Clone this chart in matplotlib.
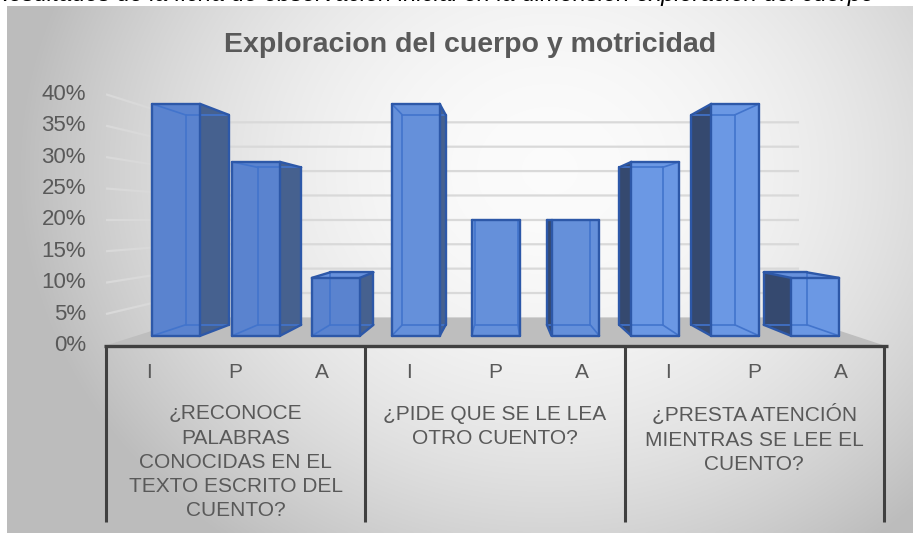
import numpy as np
import matplotlib
matplotlib.use("Agg")
import matplotlib.pyplot as plt
from matplotlib.patches import Polygon

plt.rcParams['font.family'] = ['Liberation Sans', 'DejaVu Sans']

# ---------------- data ----------------
title = "Exploracion del cuerpo y motricidad"
header = "Resultados de la ficha de observación inicial en la dimensión exploración del cuerpo"
groups = ["¿RECONOCE\nPALABRAS\nCONOCIDAS EN EL\nTEXTO ESCRITO DEL\nCUENTO?",
          "¿PIDE QUE SE LE LEA\nOTRO CUENTO?",
          "¿PRESTA ATENCIÓN\nMIENTRAS SE LEE EL\nCUENTO?"]
levels = ["I", "P", "A"]
values = [[40, 30, 10],
          [40, 20, 20],
          [30, 40, 10]]
yticks = [0, 5, 10, 15, 20, 25, 30, 35, 40]
ytick_labels = [f"{t}%" for t in yticks]

# ---------------- geometry ----------------
W, H = 913, 533
fig = plt.figure(figsize=(W / 100, H / 100), dpi=100)
fig.patch.set_facecolor("white")

# background gradient (chart area)
bg = fig.add_axes([0, 0, 1, 1], zorder=0)
bg.set_xlim(0, W)
bg.set_ylim(H, 0)
bg.axis("off")
xx, yy = np.meshgrid(np.linspace(7, W, 400), np.linspace(6, H, 240))
t2 = ((xx - 550) / 480) ** 2 + ((yy - 170) / 420) ** 2
g = np.clip(0.985 - 0.20 * t2, 0.74, 1.0)
bg.imshow(np.dstack([g, g, g]), extent=(7, W, H, 6), aspect="auto", interpolation="bilinear")

ax = fig.add_axes([0, 0, 1, 1], zorder=1)
ax.patch.set_alpha(0)
ax.axis("off")
px_u = 86.44      # pixels per category slot
px_v = 6.277      # pixels per percent on front plane
x0_px, y0_px = 106, 345.4
ax.set_xlim(-x0_px / px_u, (W - x0_px) / px_u)
ax.set_ylim(-(H - y0_px) / px_v, y0_px / px_v)

xv = (503 - x0_px) / px_u   # vanishing point
yv = 20.0
k = 1 / 0.777 - 1
nslots = 9
zb0, zb1 = 0.286, 0.683


def P(x, y, z):
    f = 1.0 / (1.0 + k * z)
    return (xv + (x - xv) * f, yv + (y - yv) * f)


# floor
floor = [P(0, 0, 0), P(nslots, 0, 0), P(nslots, 0, 1), P(0, 0, 1)]
ax.add_patch(Polygon(floor, closed=True, facecolor="#BEBEBE", edgecolor="none", zorder=1))

# gridlines: left wall and back wall
for t in yticks[1:]:
    a, b, c = P(0, t, 0), P(0, t, 1), P(nslots, t, 1)
    ax.plot([a[0], b[0], c[0]], [a[1], b[1], c[1]], color="#D9D9D9", lw=1.6,
            zorder=1.5, solid_capstyle="butt")

# bars
front_cols = ["#5A83CF", "#6590DA", "#6B98E4"]
for gi, vals in enumerate(values):
    for li, v in enumerate(vals):
        s = gi * 3 + li
        X = [s + 0.2, s + 0.8]
        Y = [0, v]
        Z = [zb0, zb1]
        vis = {("z", 0)}
        if X[1] < xv:
            vis.add(("x", 1))
        if X[0] > xv:
            vis.add(("x", 0))
        if v < yv:
            vis.add(("y", 1))

        def V(i, j, l):
            return P(X[i], Y[j], Z[l])

        faces = {
            ("z", 0): [V(0, 0, 0), V(1, 0, 0), V(1, 1, 0), V(0, 1, 0)],
            ("x", 1): [V(1, 0, 0), V(1, 0, 1), V(1, 1, 1), V(1, 1, 0)],
            ("x", 0): [V(0, 0, 0), V(0, 0, 1), V(0, 1, 1), V(0, 1, 0)],
            ("y", 1): [V(0, 1, 0), V(1, 1, 0), V(1, 1, 1), V(0, 1, 1)],
        }
        fcol = {("z", 0): front_cols[gi], ("x", 1): "#46618F",
                ("x", 0): "#35496F", ("y", 1): "#6791DC"}
        for key in [("x", 0), ("x", 1), ("y", 1), ("z", 0)]:
            if key in vis:
                ax.add_patch(Polygon(faces[key], closed=True, facecolor=fcol[key],
                                     edgecolor="none", zorder=3))
        # edges
        hidden, shown = [], []
        for i in (0, 1):
            for j in (0, 1):
                e = (V(0, j, i), V(1, j, i), {("y", j), ("z", i)})
                (shown if e[2] & vis else hidden).append(e)
                e = (V(j, 0, i), V(j, 1, i), {("x", j), ("z", i)})
                (shown if e[2] & vis else hidden).append(e)
                e = (V(j, i, 0), V(j, i, 1), {("x", j), ("y", i)})
                (shown if e[2] & vis else hidden).append(e)
        for a, b, _ in hidden:
            ax.plot([a[0], b[0]], [a[1], b[1]], color="#4274CC", lw=1.2, zorder=3.5,
                    solid_capstyle="round")
        for a, b, _ in shown:
            ax.plot([a[0], b[0]], [a[1], b[1]], color="#2D58A8", lw=1.7, zorder=4,
                    solid_capstyle="round", solid_joinstyle="round")

# y tick labels
for t, lab in zip(yticks, ytick_labels):
    ax.text(-20 / px_u, t, lab, ha="right", va="center", fontsize=16, color="#595959")

# category axis
axis_y = -0.12
ax.plot([-0.02, nslots + 0.05], [axis_y, axis_y], color="#404040", lw=2.4, zorder=5,
        solid_capstyle="butt")
bottom_v = -(522 - y0_px) / px_v
for d in range(0, nslots + 1, 3):
    ax.plot([d, d], [axis_y, bottom_v], color="#404040", lw=2.2, zorder=5,
            solid_capstyle="butt")

lvl_v = -(373 - y0_px) / px_v
for s in range(nslots):
    ax.text(s + 0.5, lvl_v, levels[s % 3], ha="center", va="center", fontsize=15,
            color="#595959")

grp_v = -(404.5 - y0_px) / px_v
for gi, lab in enumerate(groups):
    ax.text(gi * 3 + 1.5, grp_v, lab, ha="center", va="top", fontsize=15,
            color="#595959", linespacing=1.35)

# title
fig.text(470 / W, 1 - 45 / H, title, ha="center", va="center", fontsize=20.5,
         fontweight="bold", color="#595959")

# header line, cropped at the top edge as in the source image
fig.text(-8 / W, 1 - 1.5 / H, header, ha="left", va="baseline", fontsize=17,
         style="italic", color="black")

fig.savefig("out.png", dpi=100, facecolor="white")
